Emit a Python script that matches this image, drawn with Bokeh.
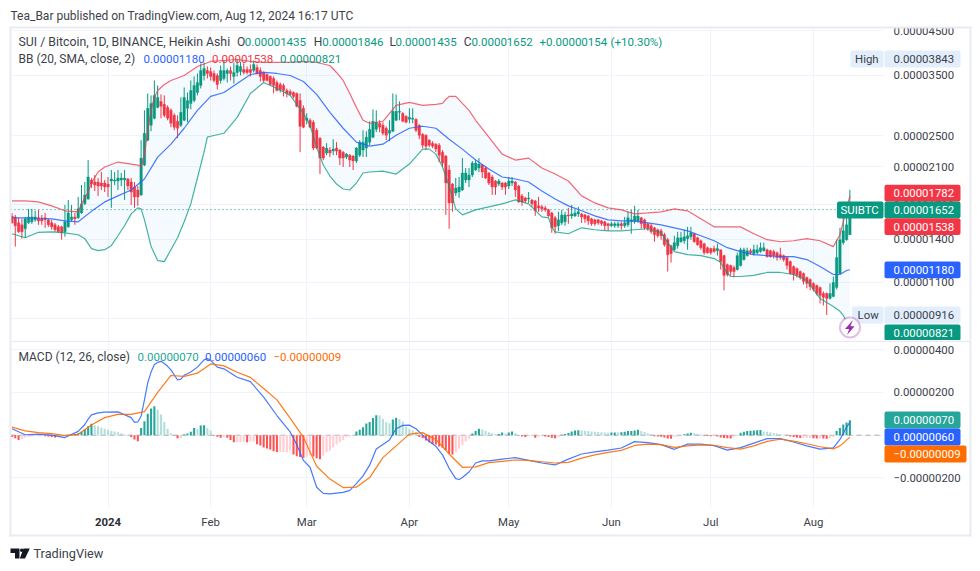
from bokeh.plotting import figure
from bokeh.models import (Label, BoxAnnotation, PolyAnnotation, Grid, FixedTicker, LogAxis, LinearAxis)
from bokeh.layouts import column
from bokeh.embed import file_html
from bokeh.resources import INLINE

# ---------- data (prices and MACD in units of 0.00000001 BTC, x in days from 2024-01-01) ----------
candle_days = list(range(-29, 225))
candle_open = [
 1595,1586,1534,1517,1484,1534,1543,1560,1578,1569,
 1578,1560,1534,1517,1500,1500,1459,1500,1560,1586,
 1578,1622,1706,1754,1950,1928,1928,1917,1917,1906,
 1939,1939,1939,1950,1950,1961,1928,1875,1844,1794,
 2120,2437,2649,2754,2928,3028,2978,2928,2880,2801,
 2709,2649,2724,2912,2994,3045,3183,3310,3500,3600,
 3580,3540,3500,3404,3442,3540,3600,3481,3560,3580,
 3621,3621,3621,3600,3661,3600,3560,3520,3481,3442,
 3366,3329,3310,3219,3201,3183,3166,3045,2912,2724,
 2724,2694,2576,2464,2344,2267,2305,2292,2331,2305,
 2279,2217,2241,2229,2168,2241,2305,2331,2410,2478,
 2590,2679,2649,2605,2533,2562,2724,2848,2832,2785,
 2739,2739,2739,2649,2519,2505,2437,2396,2383,2370,
 2279,2229,2062,1906,1813,1823,1844,1950,1950,2005,
 2062,2085,2120,2085,2028,1983,1939,1906,1917,1917,
 1885,1917,1928,1885,1784,1764,1754,1744,1734,1687,
 1678,1668,1650,1622,1578,1509,1534,1543,1604,1595,
 1595,1613,1613,1604,1595,1569,1560,1560,1551,1543,
 1526,1509,1509,1509,1526,1509,1517,1543,1543,1551,
 1578,1560,1526,1509,1492,1476,1467,1435,1396,1350,
 1320,1350,1380,1388,1404,1419,1443,1411,1388,1365,
 1335,1328,1328,1313,1320,1277,1214,1208,1194,1181,
 1208,1249,1277,1313,1291,1298,1306,1313,1320,1313,
 1306,1298,1284,1277,1263,1235,1201,1188,1168,1155,
 1130,1117,1093,1080,1068,1033,1033,1005,1016,1068,
 1155,1373,1396,1435]
candle_high = [
 1622,1604,1578,1569,1586,1659,1659,1641,1650,1604,
 1622,1569,1560,1534,1517,1509,1696,1744,1696,1622,
 1774,1896,1928,2180,1972,2005,1972,2039,1950,1983,
 2062,2039,2062,2028,2062,1972,1972,1928,1885,2437,
 2880,3166,3131,3404,3310,3148,3131,2961,2912,2832,
 2801,3096,3273,3183,3404,3481,3540,3744,3765,3682,
 3661,3600,3540,3702,3807,3641,3682,3765,3843,3780,
 3744,3682,3723,3807,3723,3661,3580,3540,3500,3481,
 3404,3366,3347,3255,3237,3201,3183,3166,2961,2832,
 2754,2724,2605,2478,2357,2396,2344,2450,2410,2318,
 2292,2267,2254,2241,2344,2437,2576,2562,2709,2896,
 2880,2724,2694,2634,2724,3166,3148,3028,2848,2801,
 2912,2912,2754,2664,2533,2519,2450,2423,2396,2396,
 2305,2241,2120,1917,1972,1983,2204,2085,2085,2168,
 2180,2204,2132,2108,2039,2005,1950,1961,1928,1928,
 1983,1983,1939,1896,1803,1774,1823,1754,1744,1774,
 1696,1687,1659,1632,1595,1632,1650,1632,1668,1696,
 1650,1678,1622,1613,1604,1578,1569,1569,1560,1551,
 1534,1543,1543,1543,1543,1586,1632,1650,1687,1650,
 1586,1569,1534,1526,1500,1484,1484,1451,1411,1357,
 1427,1459,1459,1476,1500,1500,1451,1419,1396,1373,
 1343,1335,1350,1365,1320,1284,1221,1214,1208,1298,
 1335,1335,1335,1328,1357,1357,1373,1373,1328,1320,
 1320,1306,1335,1284,1270,1242,1208,1194,1175,1162,
 1136,1124,1099,1086,1074,1045,1039,1093,1136,1396,
 1492,1578,1578,1846]
candle_low = [
 1526,1343,1451,1404,1411,1526,1526,1543,1517,1517,
 1492,1500,1476,1459,1451,1396,1419,1492,1543,1517,
 1569,1613,1696,1744,1864,1833,1784,1844,1823,1774,
 1668,1896,1844,1885,1744,1844,1696,1668,1687,1784,
 2108,2423,2562,2739,2912,2754,2769,2724,2620,2576,
 2464,2620,2709,2694,2896,3011,3131,3255,3404,3442,
 3404,3366,3237,3347,3404,3366,3404,3347,3481,3500,
 3520,3520,3481,3560,3520,3385,3366,3385,3310,3166,
 3201,3183,3113,3096,3131,3079,2928,2279,2605,2664,
 2605,2305,2318,2016,2180,2241,2217,2241,2241,2120,
 2097,2192,2097,2062,2144,2217,2217,2217,2370,2464,
 2548,2548,2505,2437,2423,2548,2709,2724,2694,2679,
 2679,2679,2548,2450,2331,2305,2344,2331,2279,2156,
 2097,1604,1484,1632,1784,1764,1833,1917,1875,1983,
 2050,2039,1972,1961,1896,1794,1794,1885,1844,1794,
 1854,1885,1774,1715,1687,1715,1715,1678,1595,1632,
 1632,1632,1586,1451,1443,1467,1517,1509,1526,1569,
 1586,1586,1534,1534,1517,1509,1509,1517,1509,1467,
 1467,1500,1492,1492,1476,1492,1500,1443,1526,1534,
 1484,1476,1467,1443,1380,1411,1396,1343,1168,1228,
 1313,1328,1373,1365,1320,1396,1373,1350,1320,1284,
 1291,1284,1298,1277,1181,1051,1136,1143,1130,1175,
 1201,1242,1270,1284,1277,1284,1298,1306,1263,1263,
 1256,1242,1249,1235,1181,1149,1111,1130,1117,1086,
 1063,1051,1045,1022,977,966,916,999,1011,1057,
 1149,1357,1388,1435]
candle_close = [
 1534,1509,1459,1459,1569,1586,1586,1586,1551,1551,
 1560,1517,1500,1476,1459,1451,1543,1622,1586,1569,
 1659,1706,1794,1983,1906,1896,1885,1885,1875,1875,
 1961,1950,1972,1972,1972,1885,1823,1774,1774,2204,
 2533,2912,2994,3131,3096,2945,2801,2754,2679,2620,
 2605,2848,3096,3045,3219,3310,3366,3600,3641,3540,
 3481,3404,3329,3600,3600,3600,3540,3560,3702,3682,
 3560,3560,3560,3723,3540,3481,3404,3404,3329,3310,
 3219,3237,3219,3166,3148,3113,2945,2634,2620,2754,
 2620,2331,2331,2204,2204,2331,2267,2318,2292,2204,
 2204,2254,2180,2168,2331,2410,2410,2478,2590,2709,
 2694,2620,2533,2505,2576,2864,2864,2864,2709,2694,
 2769,2754,2576,2505,2370,2357,2370,2357,2318,2241,
 2144,1917,1715,1715,1864,1875,2028,2028,2005,2144,
 2144,2132,2039,1972,1917,1875,1875,1939,1875,1875,
 1939,1939,1844,1725,1725,1734,1764,1706,1641,1668,
 1659,1650,1595,1492,1500,1560,1604,1604,1595,1613,
 1622,1632,1586,1569,1551,1526,1526,1534,1526,1509,
 1509,1526,1526,1526,1509,1534,1578,1560,1595,1595,
 1526,1492,1484,1459,1435,1427,1427,1357,1284,1291,
 1373,1411,1411,1419,1427,1451,1380,1357,1335,1298,
 1298,1298,1306,1328,1235,1143,1149,1168,1168,1277,
 1320,1320,1313,1298,1320,1320,1335,1335,1270,1270,
 1277,1263,1263,1249,1208,1155,1149,1143,1130,1105,
 1093,1074,1057,1033,1022,1011,1005,1033,1099,1263,
 1396,1467,1517,1652]

FIRST_DAY = -29
band_days = [FIRST_DAY + i for i in list(range(0, 249, 4)) + [250, 251, 252, 253]]
bb_basis = [
 1578,1578,1574,1569,1551,1543,1636,1725,1784,1844,
 1961,2217,2383,2605,2880,3113,3183,3347,3520,3560,
 3540,3500,3385,3148,2848,2605,2410,2357,2383,2505,
 2605,2634,2605,2450,2318,2180,2073,1983,1961,1928,
 1833,1754,1687,1641,1595,1560,1551,1551,1534,1517,
 1492,1467,1427,1388,1335,1306,1284,1277,1270,1270,
 1249,1201,1149,1149,1162,1175,1180]
macd_signal = [
 38,20,12,7,-2,4,48,82,97,97,
 110,200,279,275,290,333,324,294,270,218,
 165,80,-10,-145,-205,-245,-243,-198,-105,-50,
 5,12,-20,-88,-150,-148,-128,-122,-116,-118,
 -124,-130,-127,-107,-92,-80,-71,-48,-42,-44,
 -57,-50,-45,-47,-58,-65,-50,-29,-19,-28,
 -40,-54,-64,-50,-38,-23,-9]

upper_days = [FIRST_DAY + i for i in
 [0,4,8,12,16,20,21,22,23,24,26,28,32,36,38,39,40,41,42,43,44,46,48,52,56,60,64,68,72,76,80,84,88,92,96,98,
  100,102,104,106,108,112,116,120,124,128,130,131,132,134,136,138,140,144,148]
 + list(range(152, 249, 4)) + [250, 251, 252, 253]]
bb_upper = [
 1734,1734,1725,1687,1641,1632,1706,1764,1823,1917,2039,2097,2156,2132,2120,2097,2241,2576,2880,3096,3219,3329,3404,3500,3682,3786,3807,3828,3786,3765,3765,3765,3786,3765,3702,3560,
 3404,3166,2928,2724,2679,2709,2961,3011,2961,2978,2994,3062,3113,3113,2994,2880,2724,2478,2254,
 2180,2204,2085,2016,1939,1784,1715,1668,1650,1613,1622,1632,1659,1641,1569,1500,1500,1500,1443,1396,1380,1388,1404,1388,1343,
 1435,1543,1668,1782]

lower_days = [FIRST_DAY + i for i in
 [0,4,8,12,16,20,22,24,26,28,30,32,34,36,38,39,40,41,42,44,46,48,50,52,54,56,58,59,60,64,68,72,76,80,84,88,90,92,94,96,98,
  100,102,104,106,108,112,116,120,124,126,128,130,132,134,136,140,144,148,152,156,160,162,163,164,168,172,176,180,184,188,192,196,198,
  200,204,208,212,214,216,217,220,224,228,232,236,240,244,248,250,251,252,253]]
bb_lower = [
 1443,1411,1455,1459,1451,1435,1404,1328,1313,1320,1350,1427,1509,1613,1668,1659,1560,1451,1343,1242,1235,1320,1411,1543,1706,1972,2279,2478,2491,2533,2769,3166,3366,3255,3131,2832,2649,2344,2120,1994,1906,
 1854,1844,1917,2028,2039,2050,2016,2132,2318,2318,2254,2097,1885,1659,1604,1650,1678,1706,1744,1706,1586,1578,1500,1459,1443,1492,1476,1467,1467,1476,1484,1451,1373,
 1306,1284,1277,1256,1228,1155,1136,1136,1143,1162,1162,1149,1111,1005,961,935,914,880,821]

macd_days = [FIRST_DAY + i for i in
 [0,4,8,12,16,20,22,23,24,26,28,32,36,37,38,39,40,41,42,43,44,45,46,47,48,50,51,52,54,56,58,59,60,62,64,68,72,76,80,84,86,88,90,92,94,96,
  100,102,104,106,108,110,112,114,116,118,120,122,124,126,128,130,132,134,135,136,138,140,142,144,148]
 + list(range(152, 249, 4)) + [250, 251, 252, 253]]
macd_line = [
 30,2,5,0,-11,18,50,75,95,104,108,109,82,60,62,90,165,245,295,330,340,345,335,322,305,258,262,280,295,318,352,358,350,318,310,271,250,178,92,15,-45,-118,-150,-243,-272,-274,
 -267,-258,-226,-190,-140,-65,-43,-22,30,46,47,30,0,-30,-52,-92,-155,-203,-207,-198,-172,-130,-120,-120,-112,
 -105,-118,-130,-139,-112,-88,-78,-70,-60,-30,-35,-44,-66,-42,-42,-49,-70,-58,-37,-16,-16,-32,-50,-65,-59,
 -20,8,38,60]

macd_hist = [
 -9,-14,-22,-18,-12,-9,-7,-6,-5,-4,
 -5,-6,-9,-11,-9,-6,-3,2,5,6,
 9,16,28,42,54,47,42,36,30,25,
 20,17,14,9,4,1,-8,-20,-28,34,
 65,100,125,135,120,97,62,30,9,-2,
 -14,-13,3,8,16,34,30,45,47,34,
 22,-3,-7,-12,-10,-12,-22,-33,-33,-33,
 -30,-33,-30,-30,-42,-48,-58,-62,-67,-75,
 -78,-78,-78,-78,-72,-90,-98,-102,-105,-101,
 -95,-100,-108,-112,-95,-80,-72,-56,-44,-33,
 -22,-10,-7,-3,17,25,37,55,62,80,
 93,92,76,60,56,73,81,76,64,40,
 30,22,15,-9,-14,-25,-33,-41,-44,-53,
 -59,-69,-87,-90,-78,-62,-47,-30,-17,8,
 20,30,27,20,14,9,5,6,12,8,
 12,17,9,1,-6,-8,-6,-5,-12,-8,
 -5,-6,-9,-12,-14,-9,2,5,10,17,
 22,23,22,21,19,17,16,15,14,13,
 11,12,13,12,14,16,19,20,22,26,
 20,15,9,5,-5,-6,-7,-11,-15,-17,
 -8,-7,-2,4,8,11,9,7,4,-3,
 -4,-5,-5,-6,-11,-13,-14,-15,-8,1,
 11,16,19,21,22,23,24,17,16,14,
 10,8,6,2,-1,-6,-9,-12,-13,-13,
 -13,-13,-14,-15,-15,-16,-17,-14,-9,19,
 34,50,59,70]

assert len(upper_days) == len(bb_upper), (len(upper_days), len(bb_upper))
assert len(lower_days) == len(bb_lower), (len(lower_days), len(bb_lower))
assert len(macd_days) == len(macd_line), (len(macd_days), len(macd_line))
assert len(band_days) == len(bb_basis) == len(macd_signal)

month_ticks = [0, 31, 60, 91, 121, 152, 182, 213]
month_labels = ["", "Feb", "Mar", "Apr", "May", "Jun", "Jul", "Aug"]
price_ticks = [4500, 3500, 2500, 2100, 1700, 1400, 1100, 900]
macd_ticks = [400, 200, -200]
macd_grid_ticks = [400, 200, 0, -200]

# ---------- style ----------
FONT = "Roboto"
SIZE = "11.4px"
LEG = "12px"
VAL = "11.5px"
GREEN, RED, BLUE, ORANGE = "#089981", "#f23645", "#2962ff", "#ff6d00"
TEAL, TEXT, GRID, BORDER, PALE = "#26a69a", "#3c3f4a", "#f0f3fa", "#e9ebf1", "#e3eefc"
# frames cover the whole canvas; the plot area proper is bounded by these day values
X_START, X_END = -32.46, 263.44      # canvas edges
PLOT_LEFT, PLOT_RIGHT = -29.44, 234.15


def fmt(v):
    return ("\u2212" if v < 0 else "") + f"{abs(v) / 1e8:.8f}"


def text(fig, top, s, x, y, color=TEXT, size=SIZE, style="normal", align="left"):
    fig.add_layout(Label(x=x, y=y - top, x_units="canvas", y_units="canvas", text=s,
                         text_color=color, text_font=FONT, text_font_size=size,
                         text_font_style=style, text_align=align, text_baseline="middle",
                         level="overlay"))


def box(fig, top, x0, y0, x1, y1, color, radius=0, line=None, lw=0):
    fig.add_layout(BoxAnnotation(left=x0, right=x1, top=y0 - top, bottom=y1 - top,
                                 left_units="canvas", right_units="canvas",
                                 top_units="canvas", bottom_units="canvas",
                                 fill_color=color, fill_alpha=1, line_color=line, line_width=lw,
                                 border_radius=radius, level="annotation"))


def poly(fig, top, xs, ys, color):
    fig.add_layout(PolyAnnotation(xs=list(xs), ys=[v - top for v in ys],
                                  xs_units="canvas", ys_units="canvas",
                                  fill_color=color, fill_alpha=1, line_color=None, level="overlay"))


def style_axis(ax, standoff):
    ax.axis_line_color = None
    ax.major_tick_line_color = None
    ax.minor_tick_line_color = None
    ax.major_tick_in = 0
    ax.major_tick_out = 0
    ax.major_label_standoff = standoff
    ax.major_label_text_font = FONT
    ax.major_label_text_font_size = SIZE
    ax.major_label_text_color = TEXT


def style_fig(fig, grid_ticks, y_low, y_high):
    fig.grid.visible = False
    fig.outline_line_color = None
    fig.add_layout(Grid(dimension=0, ticker=FixedTicker(ticks=month_ticks), grid_line_color=GRID,
                        grid_line_width=1, cross_bounds=(y_low, y_high)))
    fig.add_layout(Grid(dimension=1, ticker=FixedTicker(ticks=grid_ticks), grid_line_color=GRID,
                        grid_line_width=1, cross_bounds=(PLOT_LEFT, PLOT_RIGHT)))


# ---------- price pane ----------
T1 = 0
p = figure(width=980, height=340, y_axis_type="log", y_axis_location=None, x_axis_location=None,
           x_range=(X_START, X_END), y_range=(794, 5326), min_border=0,
           toolbar_location=None, output_backend="svg",
           background_fill_color="white", border_fill_color="white")
style_fig(p, price_ticks, 794, 4576)
ya = LogAxis(fixed_location=PLOT_RIGHT, ticker=FixedTicker(ticks=price_ticks),
             major_label_overrides={v: fmt(v) for v in price_ticks})
style_axis(ya, 10)
p.add_layout(ya, "right")

p.patch(upper_days + lower_days[::-1], bb_upper + bb_lower[::-1], fill_color="#2196f3", fill_alpha=0.05, line_color=None)
p.line([PLOT_LEFT, PLOT_RIGHT], [candle_close[-1]] * 2, line_color=GREEN, line_dash=[1, 3], line_width=1)

colors = [GREEN if c >= o else RED for o, c in zip(candle_open, candle_close)]
p.segment(candle_days, candle_low, candle_days, candle_high, color=colors, line_width=1)
p.vbar(candle_days, width=0.78,
       bottom=[min(o, c) for o, c in zip(candle_open, candle_close)],
       top=[max(o, c) for o, c in zip(candle_open, candle_close)],
       fill_color=colors, line_color=colors, line_width=0.3)

p.line(upper_days, bb_upper, line_color=RED, line_alpha=0.75, line_width=1.2)
p.line(band_days, bb_basis, line_color=BLUE, line_alpha=0.85, line_width=1.2)
p.line(lower_days, bb_lower, line_color=GREEN, line_alpha=0.75, line_width=1.2)

# header and legend texts
text(p, T1, "Tea_Bar published on TradingView.com, Aug 12, 2024 16:17 UTC", 10, 15, size=LEG)
text(p, T1, "SUI / Bitcoin, 1D, BINANCE, Heikin Ashi", 18, 41.5, size="12.3px")
for s, x, c, z in [("O", 236.5, TEXT, LEG), (fmt(candle_open[-1]), 244.3, GREEN, VAL),
                   ("H", 313.3, TEXT, LEG), (fmt(candle_high[-1]), 321.7, GREEN, VAL),
                   ("L", 389, TEXT, LEG), (fmt(candle_low[-1]), 395, GREEN, VAL),
                   ("C", 463.3, TEXT, LEG), (fmt(candle_close[-1]), 471, GREEN, VAL),
                   ("+0.00000154", 539, GREEN, VAL), ("(+10.30%)", 610, GREEN, VAL)]:
    text(p, T1, s, x, 41.5, c, size=z)
text(p, T1, "BB (20, SMA, close, 2)", 18, 58.5, size=LEG)
for v, x, c in [(bb_basis[-1], 143, BLUE), (1538, 211.5, RED), (bb_lower[-1], 279.5, GREEN)]:
    text(p, T1, fmt(v), x, 58.5, c, size=VAL)

# frame
box(p, T1, 9, 26, 971, 28, BORDER)
box(p, T1, 9, 26, 11, 340, BORDER)
box(p, T1, 969, 26, 971, 340, BORDER)

# right-hand tags
box(p, T1, 850, 50, 883, 67, PALE, 2)
box(p, T1, 884, 50, 960, 67, PALE, 2)
text(p, T1, "High", 854.5, 58.5, TEXT)
text(p, T1, fmt(max(candle_high)), 893, 58.5, TEXT)

box(p, T1, 836.5, 201, 883, 218, GREEN, 2)
text(p, T1, "SUIBTC", 840, 209.5, "white")
for v, y0, c in [(1782, 184.3, RED), (candle_close[-1], 201, GREEN), (1538, 217.8, RED), (bb_basis[-1], 261, BLUE)]:
    box(p, T1, 884, y0, 960, y0 + 16.8, c, 2)
    text(p, T1, fmt(v), 893, y0 + 8.5, "white")

box(p, T1, 851.5, 306, 883, 323, PALE, 2)
box(p, T1, 884, 306, 960, 323, PALE, 2)
text(p, T1, "Low", 857, 314.5, TEXT)
text(p, T1, fmt(min(candle_low)), 893, 314.5, TEXT)
box(p, T1, 884, 324, 960, 340, GREEN, 2)
text(p, T1, fmt(bb_lower[-1]), 893, 332, "white")

# events badge
box(p, T1, 839.5, 317, 859.5, 337, "white", 10, "#9c27b0", 2)
poly(p, T1, [852.5, 844.5, 848.7, 846.5, 854, 849.8], [319.5, 328.5, 328.5, 334.5, 325.8, 325.8], "#9c27b0")

# ---------- MACD pane ----------
T2 = 340
MACD_BOTTOM = -338
q = figure(width=980, height=231, y_axis_location=None, x_axis_location=None,
           x_range=(X_START, X_END), y_range=(-637, 442.5), min_border=0,
           toolbar_location=None, output_backend="svg",
           background_fill_color="white", border_fill_color="white")
style_fig(q, macd_grid_ticks, MACD_BOTTOM, 442.5)
yb = LinearAxis(fixed_location=PLOT_RIGHT, ticker=FixedTicker(ticks=macd_ticks),
                major_label_overrides={v: fmt(v) for v in macd_ticks})
style_axis(yb, 10)
q.add_layout(yb, "right")
xa = LinearAxis(fixed_location=MACD_BOTTOM, ticker=FixedTicker(ticks=month_ticks),
                major_label_overrides=dict(zip(month_ticks, month_labels)))
style_axis(xa, 7)
q.add_layout(xa, "below")

q.line([PLOT_LEFT, PLOT_RIGHT], [0, 0], line_color="#787b86", line_alpha=0.6, line_dash=[5, 4], line_width=1)

hist_colors = []
for i, v in enumerate(macd_hist):
    prev = macd_hist[i - 1] if i else 0
    if v >= 0:
        hist_colors.append(TEAL if v > prev else "#b2dfdb")
    else:
        hist_colors.append("#ff5252" if v < prev else "#ffcdd2")
q.vbar(candle_days, width=0.62, bottom=0, top=macd_hist, fill_color=hist_colors, line_color=None)
q.line(macd_days, macd_line, line_color=BLUE, line_alpha=0.85, line_width=1.2)
q.line(band_days, macd_signal, line_color=ORANGE, line_alpha=0.9, line_width=1.2)

text(q, T2, "2024", 107.5, 521, "#2a2e39", style="bold", align="center")
text(q, T2, "MACD (12, 26, close)", 18, 356, size=LEG)
for v, x, c in [(macd_hist[-1], 137, TEAL), (macd_line[-1], 204.5, BLUE), (macd_signal[-1], 273, ORANGE)]:
    text(q, T2, fmt(v), x, 356, c, size=VAL)

for v, y0, c, x1 in [(macd_hist[-1], 411, TEAL, 960), (macd_line[-1], 428, BLUE, 960), (macd_signal[-1], 445, ORANGE, 966)]:
    box(q, T2, 884, y0, x1, y0 + 17, c, 2)
    text(q, T2, fmt(v), 893, y0 + 8.5, "white")

# frame
box(q, T2, 9, 340, 971, 341.5, BORDER)
box(q, T2, 9, 340, 11, 536, BORDER)
box(q, T2, 969, 340, 971, 536, BORDER)
box(q, T2, 9, 534, 971, 536, BORDER)

# footer
poly(q, T2, [10, 19, 19, 14.5, 14.5, 10], [548, 548, 558, 558, 552.5, 552.5], "#131722")
poly(q, T2, [23, 29.3, 24.5, 19.3], [548, 548, 558, 558], "#131722")
box(q, T2, 19.5, 548, 23, 551.5, "#131722", 2)
text(q, T2, "TradingView", 33, 553, "#3c3f4a", size="12.7px")

open("out.html", "w").write(file_html(column(p, q, spacing=0), INLINE))
